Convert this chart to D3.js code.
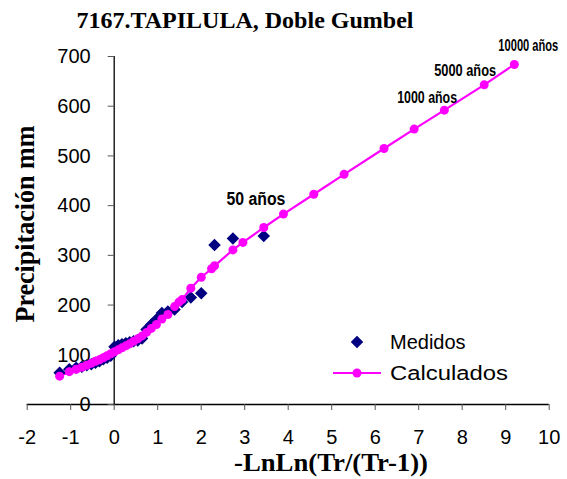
<!DOCTYPE html>
<html>
<head>
<meta charset="utf-8">
<script src="https://cdn.jsdelivr.net/npm/d3@7"></script>
<style>
  html, body { margin: 0; padding: 0; background: #fff; }
  svg { display: block; }
</style>
</head>
<body>
<div id="chart"></div>
<script>
// ---- Data ----
const title = "7167.TAPILULA, Doble Gumbel";
const xTitle = "-LnLn(Tr/(Tr-1))";
const yTitle = "Precipitación mm";
const xTicks = [-2, -1, 0, 1, 2, 3, 4, 5, 6, 7, 8, 9, 10];
const yTicks = [0, 100, 200, 300, 400, 500, 600, 700];

// Measured (Medidos): reduced variate and precipitation
const medidosX = [-1.243, -1.020, -0.862, -0.732, -0.619, -0.515, -0.419, -0.327, -0.238, -0.151,
                  -0.066, 0.019, 0.105, 0.190, 0.278, 0.367, 0.458, 0.553, 0.652, 0.755,
                  0.865, 0.982, 1.108, 1.246, 1.399, 1.572, 1.773, 2.013, 2.318, 2.741, 3.450];
const medidosY = [63, 70, 73, 75, 78, 80, 83, 86, 90, 93,
                  97, 115, 118, 120, 122, 124, 126, 128, 132, 150,
                  160, 170, 183, 186, 190, 205, 214, 223, 320, 333, 338];

// Calculated (Calculados)
const calcX = [-1.243, -1.020, -0.862, -0.732, -0.619, -0.515, -0.419, -0.327, -0.238, -0.151,
               -0.066, 0.019, 0.105, 0.190, 0.278, 0.367, 0.458, 0.553, 0.652, 0.755,
               0.865, 0.982, 1.108, 1.246, 1.399, 1.500, 1.572, 1.773, 2.013, 2.250, 2.318,
               2.741, 2.970, 3.450, 3.902, 4.600, 5.296, 6.214, 6.907, 7.601, 8.517, 9.210];
const calcY = [56, 65, 70, 74, 78, 82, 86, 89, 93, 97,
               101, 105, 109, 113, 117, 121, 126, 131, 137, 144,
               152, 160, 171, 180, 196, 205, 210, 233, 255, 272, 278,
               310, 325, 355, 382, 422, 462, 514, 553, 591, 642, 683];

const annoText = ["50 años", "1000 años", "5000 años", "10000 años"];
const annoX = [3.902, 6.907, 8.517, 9.210];
const annoY = [382, 553, 642, 683];

const legendLabels = ["Medidos", "Calculados"];

// ---- Layout ----
const W = 567, H = 479;
const svg = d3.select("#chart").append("svg").attr("width", W).attr("height", H);

const x = d3.scaleLinear().domain([-2, 10]).range([26.7, 548.7]);
const y = d3.scaleLinear().domain([0, 700]).range([404, 56]);

const tickFont = "'Liberation Sans', Arial, sans-serif";
const serif = "'Liberation Serif', 'Times New Roman', serif";

// X axis at y=0
const xAxis = svg.append("g").attr("transform", `translate(0,${y(0)})`)
  .call(d3.axisBottom(x).tickValues(xTicks).tickSize(6).tickPadding(20).tickFormat(d3.format("d")));
xAxis.select(".domain").attr("d", `M${x(-2)},0.5H${x(10)}`).attr("stroke", "#000").attr("stroke-width", 1.3);
xAxis.selectAll(".tick line").attr("stroke", "#555").attr("stroke-width", 1);
xAxis.selectAll(".tick text").attr("font-family", tickFont).attr("font-size", 20).attr("fill", "#000")
  .text(d => d < 0 ? "-" + Math.abs(d) : d);

// Y axis at x=0
const yAxis = svg.append("g").attr("transform", `translate(${x(0)},0)`)
  .call(d3.axisLeft(y).tickValues(yTicks).tickSize(6).tickPadding(0).tickFormat(d3.format("d")));
yAxis.select(".domain").attr("d", `M0.5,${y(700)}V${y(0)}`).attr("stroke", "#000").attr("stroke-width", 1.3);
yAxis.selectAll(".tick line").attr("stroke", "#555").attr("stroke-width", 1);
yAxis.selectAll(".tick text").attr("font-family", tickFont).attr("font-size", 20).attr("fill", "#000")
  .attr("x", -23).attr("dy", "0.34em");

// Calculated line
svg.append("path")
  .datum(calcX.map((v, i) => [v, calcY[i]]))
  .attr("fill", "none").attr("stroke", "#FF00FF").attr("stroke-width", 2.2)
  .attr("d", d3.line().x(d => x(d[0])).y(d => y(d[1])));

// Measured diamonds
const diamond = d3.symbol().type(d3.symbolDiamond2).size(100);
svg.append("g").selectAll("path")
  .data(medidosX.map((v, i) => [v, medidosY[i]]))
  .join("path")
  .attr("d", diamond)
  .attr("transform", d => `translate(${x(d[0])},${y(d[1])})`)
  .attr("fill", "#000080");

// Calculated circles
svg.append("g").selectAll("circle")
  .data(calcX.map((v, i) => [v, calcY[i]]))
  .join("circle")
  .attr("cx", d => x(d[0])).attr("cy", d => y(d[1])).attr("r", 4.5)
  .attr("fill", "#FF00FF");

// Annotations (condensed bold, horizontally scaled to the reference widths)
const annoFont = "'Liberation Sans', Arial, sans-serif";
const annoSize = [19, 16, 16, 16];
const annoDx = [-57, -17, -50, -16];
const annoDy = [-9, -26, -9, -13.5];
const annoLen = [59, 60, 62, 60];
svg.append("g").selectAll("text")
  .data(annoText)
  .join("text")
  .attr("font-family", annoFont).attr("font-weight", "bold")
  .attr("font-size", (d, i) => annoSize[i])
  .attr("fill", "#000")
  .text(d => d)
  .each(function(d, i) {
    const natural = this.getComputedTextLength();
    const k = annoLen[i] / natural;
    d3.select(this).attr("transform",
      `translate(${x(annoX[i]) + annoDx[i]},${y(annoY[i]) + annoDy[i]}) scale(${k},1)`);
  });

// Legend
const lg = svg.append("g");
lg.append("path").attr("d", diamond).attr("transform", "translate(357,342)").attr("fill", "#000080");
lg.append("line").attr("x1", 333).attr("x2", 381).attr("y1", 373).attr("y2", 373)
  .attr("stroke", "#FF00FF").attr("stroke-width", 2.2);
lg.append("circle").attr("cx", 357).attr("cy", 373).attr("r", 4.5).attr("fill", "#FF00FF");
lg.selectAll("text").data(legendLabels).join("text")
  .attr("x", 390).attr("y", (d, i) => 349 + i * 31)
  .attr("font-family", tickFont).attr("font-size", 20).attr("fill", "#000")
  .each(function(d, i) { if (i === 1) d3.select(this).attr("textLength", 118).attr("lengthAdjust", "spacingAndGlyphs"); })
  .text(d => d);

// Titles
svg.append("text").attr("x", 245).attr("y", 28).attr("text-anchor", "middle")
  .attr("font-family", serif).attr("font-weight", "bold").attr("font-size", 24)
  .attr("textLength", 337).attr("lengthAdjust", "spacingAndGlyphs")
  .text(title);
svg.append("text").attr("x", 331).attr("y", 471).attr("text-anchor", "middle")
  .attr("font-family", serif).attr("font-weight", "bold").attr("font-size", 25)
  .attr("textLength", 194).attr("lengthAdjust", "spacingAndGlyphs")
  .text(xTitle);
svg.append("text").attr("transform", "translate(34,224) rotate(-90)").attr("text-anchor", "middle")
  .attr("font-family", serif).attr("font-weight", "bold").attr("font-size", 27)
  .attr("textLength", 197).attr("lengthAdjust", "spacingAndGlyphs")
  .text(yTitle);
</script>
</body>
</html>
